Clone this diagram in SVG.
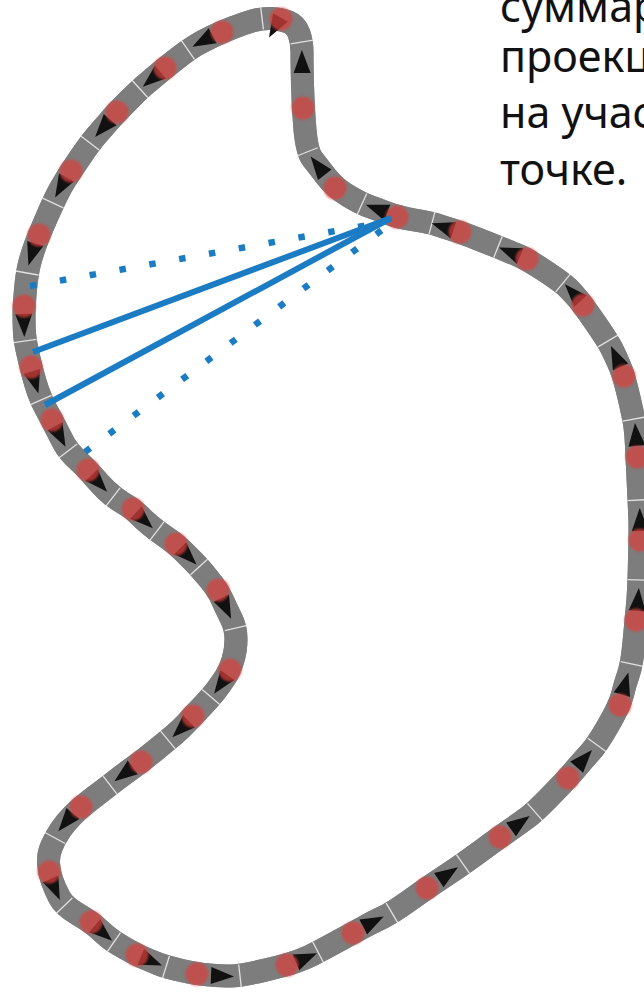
<svg xmlns="http://www.w3.org/2000/svg" xmlns:xlink="http://www.w3.org/1999/xlink" width="644" height="993" viewBox="0 0 644 993">
  <style>
    .band { fill: none; stroke: #7d7d7d; stroke-width: 23; stroke-linejoin: round; }
    .axis { fill: none; stroke: #1e1e1e; stroke-width: 1; opacity: 0.85; }
    .ticks path { fill: none; stroke: none; marker-mid: url(#tick); }
    .arrows path { fill: none; stroke: none; marker-mid: url(#head); }
    .dots circle { fill: #d8413c; opacity: 0.72; filter: url(#soft); }
    .ray { fill: none; stroke: #1b7cc4; stroke-width: 6; }
    .ray.dotted { stroke-width: 6.5; stroke-dasharray: 6.5 23.8; stroke-linecap: butt; }
    .label { font-family: "Noto Sans", "Open Sans", sans-serif; font-size: 43px; fill: #111; }
  </style>
  <defs>
    <filter id="soft" x="-30%" y="-30%" width="160%" height="160%">
      <feGaussianBlur stdDeviation="1"/>
    </filter>
    <path id="headShape" d="M12 0L-11 -8.5L-11 8.5Z" fill="#111"/>
    <marker id="head" markerUnits="userSpaceOnUse" orient="auto" markerWidth="1" markerHeight="1" overflow="visible">
      <use xlink:href="#headShape"/>
    </marker>
    <marker id="tick" markerUnits="userSpaceOnUse" orient="auto" markerWidth="1" markerHeight="1" overflow="visible">
      <line x1="0" y1="-11.5" x2="0" y2="11.5" stroke="#f2f2f2" stroke-width="1.3" opacity="0.85"/>
    </marker>
  </defs>

  <!-- closed track: wide grey band with a thin centre line -->
  <g id="track">
    <path id="trackPath" class="band" d="M414.5 220Q397 217 387 213Q377 209 369.5 206.5Q362 204 348.5 196Q335 188 326.5 177Q318 166 312.5 159Q307 152 305 130Q303 108 302.5 85Q302 62 302 52Q302 42 299 33.5Q296 25 288.5 22Q281 19 271.5 18.5Q262 18 252 21Q242 24 232 28Q222 32 212.5 36.5Q203 41 195.5 45.5Q188 50 176.5 59Q165 68 158.5 73.5Q152 79 146 84Q140 89 128.5 100.5Q117 112 110 120Q103 128 96.5 135.5Q90 143 80.5 157Q71 171 66 179Q61 187 57 195Q53 203 46 219Q39 235 35.5 244.5Q32 254 29.5 263.5Q27 273 25.5 289.5Q24 306 24 315.5Q24 325 24.5 333Q25 341 28 354Q31 367 33 374.5Q35 382 38 391Q41 400 46.5 410Q52 420 56 428Q60 436 64 443.5Q68 451 78 460.5Q88 470 93.5 476.5Q99 483 106 490Q113 497 123 503Q133 509 138.5 514.5Q144 520 150.5 525.5Q157 531 166.5 537.5Q176 544 182 550Q188 556 193.5 561.5Q199 567 208.5 578.5Q218 590 222 599Q226 608 231 618Q236 628 236 639Q236 650 233 660Q230 670 225.5 677Q221 684 216 690.5Q211 697 202 706.5Q193 716 187 722.5Q181 729 174.5 734.5Q168 740 154.5 751Q141 762 132.5 768Q124 774 117 779.5Q110 785 95.5 796Q81 807 73.5 814.5Q66 822 60.5 830Q55 838 51.5 846.5Q48 855 48.5 863.5Q49 872 52 880.5Q55 889 59.5 897.5Q64 906 77.5 914Q91 922 97 927.5Q103 933 108.5 937.5Q114 942 125.5 948.5Q137 955 144 958Q151 961 158.5 964Q166 967 181.5 970.5Q197 974 209.5 975Q222 976 231 976Q240 976 263.5 970.5Q287 965 296.5 961.5Q306 958 312 955Q318 952 335.5 942.5Q353 933 363 927.5Q373 922 382.5 917.5Q392 913 409.5 900.5Q427 888 437.5 881Q448 874 455.5 869Q463 864 481.5 850.5Q500 837 510 830Q520 823 527.5 817.5Q535 812 551.5 795Q568 778 576 768.5Q584 759 590.5 752Q597 745 608.5 725Q620 705 622.5 694.5Q625 684 628.5 674Q632 664 634 642Q636 620 637 610Q638 600 638.5 590Q639 580 639.5 560Q640 540 640 530Q640 520 639.5 510Q639 500 638 478.5Q637 457 636.5 446Q636 435 635 427Q634 419 629 397.5Q624 376 620 366.5Q616 357 612 349Q608 341 595.5 323Q583 305 578 299Q573 293 568 288Q563 283 545 271Q527 259 518.5 255.5Q510 252 504 249.5Q498 247 479 239.5Q460 232 451.5 229.5Q443 227 437.5 225Q432 223 414.5 220Z"/>
    <use xlink:href="#trackPath" class="axis"/>
  </g>

  <!-- cross ticks between samples (each path: neighbour, tick, neighbour) -->
  <g id="ticks" class="ticks">
    <path d="M377 209L362 204L335 188"/>
    <path d="M318 166L307 152L303 108"/>
    <path d="M302 62L302 42L296 25"/>
    <path d="M281 19L262 18L242 24"/>
    <path d="M203 41L188 50L165 68"/>
    <path d="M152 79L140 89L117 112"/>
    <path d="M103 128L90 143L71 171"/>
    <path d="M61 187L53 203L39 235"/>
    <path d="M32 254L27 273L24 306"/>
    <path d="M24 325L25 341L31 367"/>
    <path d="M35 382L41 400L52 420"/>
    <path d="M60 436L68 451L88 470"/>
    <path d="M99 483L113 497L133 509"/>
    <path d="M144 520L157 531L176 544"/>
    <path d="M188 556L199 567L218 590"/>
    <path d="M226 608L236 628L236 650"/>
    <path d="M221 684L211 697L193 716"/>
    <path d="M181 729L168 740L141 762"/>
    <path d="M124 774L110 785L81 807"/>
    <path d="M66 822L55 838L48 855"/>
    <path d="M55 889L64 906L91 922"/>
    <path d="M103 933L114 942L137 955"/>
    <path d="M151 961L166 967L197 974"/>
    <path d="M222 976L240 976L287 965"/>
    <path d="M306 958L318 952L353 933"/>
    <path d="M373 922L392 913L427 888"/>
    <path d="M448 874L463 864L500 837"/>
    <path d="M520 823L535 812L568 778"/>
    <path d="M584 759L597 745L620 705"/>
    <path d="M625 684L632 664L636 620"/>
    <path d="M638 600L639 580L640 540"/>
    <path d="M640 520L639 500L637 457"/>
    <path d="M636 435L634 419L624 376"/>
    <path d="M616 357L608 341L583 305"/>
    <path d="M573 293L563 283L527 259"/>
    <path d="M510 252L498 247L460 232"/>
    <path d="M443 227L432 223L397 217"/>
  </g>

  <!-- direction arrows along the track -->
  <g id="arrows" class="arrows">
    <path d="M397 217L377 209L362 204"/>
    <path d="M335 188L318 166L307 152"/>
    <path d="M303 108L302 62L302 42"/>
    <path d="M222 32L203 41L188 50"/>
    <path d="M165 68L152 79L140 89"/>
    <path d="M117 112L103 128L90 143"/>
    <path d="M71 171L61 187L53 203"/>
    <path d="M39 235L32 254L27 273"/>
    <path d="M24 306L24 325L25 341"/>
    <path d="M31 367L35 382L41 400"/>
    <path d="M52 420L60 436L68 451"/>
    <path d="M88 470L99 483L113 497"/>
    <path d="M133 509L144 520L157 531"/>
    <path d="M176 544L188 556L199 567"/>
    <path d="M218 590L226 608L236 628"/>
    <path d="M230 670L221 684L211 697"/>
    <path d="M193 716L181 729L168 740"/>
    <path d="M141 762L124 774L110 785"/>
    <path d="M81 807L66 822L55 838"/>
    <path d="M49 872L55 889L64 906"/>
    <path d="M91 922L103 933L114 942"/>
    <path d="M137 955L151 961L166 967"/>
    <path d="M197 974L222 976L240 976"/>
    <path d="M287 965L306 958L318 952"/>
    <path d="M353 933L373 922L392 913"/>
    <path d="M427 888L448 874L463 864"/>
    <path d="M500 837L520 823L535 812"/>
    <path d="M568 778L584 759L597 745"/>
    <path d="M620 705L625 684L632 664"/>
    <path d="M636 620L638 600L639 580"/>
    <path d="M640 540L640 520L639 500"/>
    <path d="M637 457L636 435L634 419"/>
    <path d="M624 376L616 357L608 341"/>
    <path d="M583 305L573 293L563 283"/>
    <path d="M527 259L510 252L498 247"/>
    <path d="M460 232L443 227L432 223"/>
    <use xlink:href="#headShape" transform="translate(275 27) rotate(120)"/>
  </g>

  <!-- sample points -->
  <g id="dots" class="dots">
    <circle cx="397" cy="217" r="11.5"/>
    <circle cx="335" cy="188" r="11.5"/>
    <circle cx="303" cy="108" r="11.5"/>
    <circle cx="281" cy="19" r="11.5"/>
    <circle cx="222" cy="32" r="11.5"/>
    <circle cx="165" cy="68" r="11.5"/>
    <circle cx="117" cy="112" r="11.5"/>
    <circle cx="71" cy="171" r="11.5"/>
    <circle cx="39" cy="235" r="11.5"/>
    <circle cx="24" cy="306" r="11.5"/>
    <circle cx="31" cy="367" r="11.5"/>
    <circle cx="52" cy="420" r="11.5"/>
    <circle cx="88" cy="470" r="11.5"/>
    <circle cx="133" cy="509" r="11.5"/>
    <circle cx="176" cy="544" r="11.5"/>
    <circle cx="218" cy="590" r="11.5"/>
    <circle cx="230" cy="670" r="11.5"/>
    <circle cx="193" cy="716" r="11.5"/>
    <circle cx="141" cy="762" r="11.5"/>
    <circle cx="81" cy="807" r="11.5"/>
    <circle cx="49" cy="872" r="11.5"/>
    <circle cx="91" cy="922" r="11.5"/>
    <circle cx="137" cy="955" r="11.5"/>
    <circle cx="197" cy="974" r="11.5"/>
    <circle cx="287" cy="965" r="11.5"/>
    <circle cx="353" cy="933" r="11.5"/>
    <circle cx="427" cy="888" r="11.5"/>
    <circle cx="500" cy="837" r="11.5"/>
    <circle cx="568" cy="778" r="11.5"/>
    <circle cx="620" cy="705" r="11.5"/>
    <circle cx="636" cy="620" r="11.5"/>
    <circle cx="640" cy="540" r="11.5"/>
    <circle cx="637" cy="457" r="11.5"/>
    <circle cx="624" cy="376" r="11.5"/>
    <circle cx="583" cy="305" r="11.5"/>
    <circle cx="527" cy="259" r="11.5"/>
    <circle cx="460" cy="232" r="11.5"/>
  </g>

  <!-- rays from the observation point -->
  <g id="connectors">
    <path class="ray dotted" d="M30 286L385 222"/>
    <path class="ray" d="M33 352L391 218"/>
    <path class="ray" d="M45 405L391 218"/>
    <path class="ray dotted" d="M85 452L390 224"/>
  </g>

  <g id="caption" class="label">
    <text x="500" y="22">суммар</text>
    <text x="500" y="72">проекц</text>
    <text x="500" y="128">на учас</text>
    <text x="500" y="185">точке.</text>
  </g>
</svg>
